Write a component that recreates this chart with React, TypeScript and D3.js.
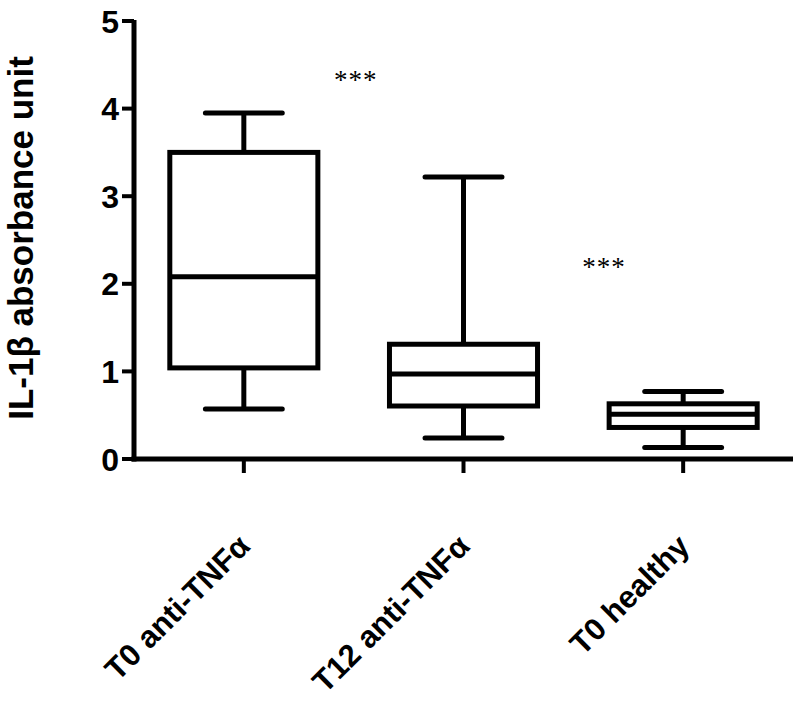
import React from "react";
import * as d3 from "d3";

const categories = ["T0 anti-TNFα", "T12 anti-TNFα", "T0 healthy"];
const whiskerMin = [0.57, 0.24, 0.13];
const quartile1 = [1.04, 0.605, 0.36];
const medians = [2.08, 0.97, 0.51];
const quartile3 = [3.5, 1.31, 0.63];
const whiskerMax = [3.95, 3.22, 0.77];
const yTicks = [0, 1, 2, 3, 4, 5];
const sigLabels = ["***", "***"];
const sigX = [0.51, 1.64]; // in category-index units
const sigY = [4.36, 2.23];

const W = 800;
const H = 708;
const left = 134;
const right = 793;
const top = 21;
const bottom = 459;

export default function App() {
  const x = d3.scaleBand<string>().domain(categories).range([left, right]).padding(0);
  const y = d3.scaleLinear().domain([0, 5]).range([bottom, top]);
  const step = x.step();
  const cx = (i: number) => (x(categories[i]) as number) + x.bandwidth() / 2;
  const boxW = step * 0.674;
  const capW = step * 0.35;
  const sw = 5;
  const font = "Arial, 'Liberation Sans', sans-serif";

  return (
    <svg width={W} height={H} style={{ position: "absolute", left: 0, top: 0, background: "#fff" }}>
      <rect x={0} y={0} width={W} height={H} fill="#fff" />
      {/* axes */}
      <line x1={left} x2={left} y1={y(5) - 1} y2={bottom + 2.5} stroke="#000" strokeWidth={sw} />
      <line x1={left - 2.5} x2={right} y1={bottom} y2={bottom} stroke="#000" strokeWidth={sw} />
      {yTicks.map((t) => (
        <g key={t}>
          <line x1={left - 12} x2={left} y1={y(t)} y2={y(t)} stroke="#000" strokeWidth={4} />
          <text
            x={left - 15}
            y={y(t)}
            dy="0.36em"
            textAnchor="end"
            fontFamily={font}
            fontWeight="bold"
            fontSize={32}
          >
            {t}
          </text>
        </g>
      ))}
      {categories.map((c, i) => (
        <g key={c}>
          <line x1={cx(i)} x2={cx(i)} y1={bottom} y2={bottom + 14} stroke="#000" strokeWidth={4} />
          <text
            transform={`translate(${cx(i) + 8},${548}) rotate(-45)`}
            textAnchor="end"
            fontFamily={font}
            fontWeight="bold"
            fontSize={31}
          >
            {c}
          </text>
        </g>
      ))}
      <text
        transform={`translate(33,${238}) rotate(-90)`}
        textAnchor="middle"
        fontFamily={font}
        fontWeight="bold"
        fontSize={35}
      >
        IL-1β absorbance unit
      </text>
      {/* boxes */}
      {categories.map((c, i) => {
        const xc = cx(i);
        return (
          <g key={"b" + c} stroke="#000" strokeWidth={sw} fill="none">
            <line x1={xc} x2={xc} y1={y(whiskerMax[i])} y2={y(quartile3[i])} />
            <line x1={xc} x2={xc} y1={y(quartile1[i])} y2={y(whiskerMin[i])} />
            <line x1={xc - capW / 2} x2={xc + capW / 2} y1={y(whiskerMax[i])} y2={y(whiskerMax[i])} strokeLinecap="round" />
            <line x1={xc - capW / 2} x2={xc + capW / 2} y1={y(whiskerMin[i])} y2={y(whiskerMin[i])} strokeLinecap="round" />
            <rect
              x={xc - boxW / 2}
              y={y(quartile3[i])}
              width={boxW}
              height={y(quartile1[i]) - y(quartile3[i])}
            />
            <line x1={xc - boxW / 2} x2={xc + boxW / 2} y1={y(medians[i])} y2={y(medians[i])} />
          </g>
        );
      })}
      {sigLabels.map((s, i) => (
        <text
          key={"s" + i}
          x={cx(0) + sigX[i] * step}
          y={y(sigY[i])}
          dy="0.45em"
          textAnchor="middle"
          fontFamily="'Liberation Serif', 'Times New Roman', serif"
          fontSize={27}
          letterSpacing={1}
        >
          {s}
        </text>
      ))}
    </svg>
  );
}
